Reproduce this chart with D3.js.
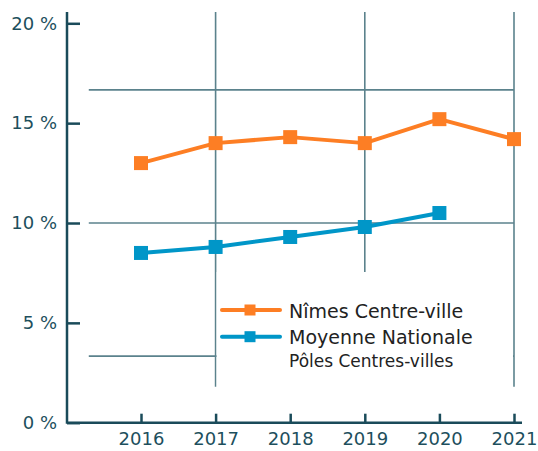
<!DOCTYPE html>
<html><head><meta charset="utf-8">
<script src="https://cdn.jsdelivr.net/npm/d3@7"></script>
<style>html,body{margin:0;padding:0;background:#fff}svg{display:block}</style>
</head><body>
<svg id="chart" width="538" height="451"></svg>
<script>
const years = [2016, 2017, 2018, 2019, 2020, 2021];
const nimes = [13.0, 14.0, 14.3, 14.0, 15.2, 14.2];
const nationale = [8.5, 8.8, 9.3, 9.8, 10.5, null];
const yTicks = [0, 5, 10, 15, 20];
const xGrid = [2017, 2019, 2021];
const yGrid = [10/3, 10, 50/3];
const seriesNames = ["Nîmes Centre-ville", "Moyenne Nationale"];
const seriesSub = ["", "Pôles Centres-villes"];
const colors = ["#fd7e24", "#0096c8"];

const FONT = "'DejaVu Sans', sans-serif";
const svg = d3.select("#chart");
const x = d3.scaleLinear().domain([2016, 2021]).range([141, 514]);
const y = d3.scaleLinear().domain([0, 20]).range([422.7, 23.3]);
const x0 = 67;

// grid
const gridColor = "#5b828c";
const g = svg.append("g");
g.selectAll(".vg").data(xGrid).join("line")
  .attr("x1", d => x(d)).attr("x2", d => x(d))
  .attr("y1", 12).attr("y2", y(1.8))
  .attr("stroke", gridColor).attr("stroke-width", 1.6);
g.selectAll(".hg").data(yGrid).join("line")
  .attr("x1", x(2015.3)).attr("x2", x(2021))
  .attr("y1", d => y(d)).attr("y2", d => y(d))
  .attr("stroke", gridColor).attr("stroke-width", 1.6);

// legend background (covers part of the grid)
svg.append("rect").attr("x", x(2017) + 1).attr("y", 272)
  .attr("width", x(2021) - x(2017) - 2).attr("height", 115).attr("fill", "#fff");

// axes
const axisColor = "#1a4b5a";
const yAxis = svg.append("g").attr("transform", `translate(${x0},0)`)
  .call(d3.axisLeft(y).tickValues(yTicks).tickSizeInner(-13).tickSizeOuter(0).tickPadding(10).tickFormat(d => d + " %"));
yAxis.select(".domain").remove();
yAxis.selectAll(".tick line").attr("stroke", axisColor).attr("stroke-width", 2.5);
yAxis.selectAll("text").attr("fill", "#1d4f5d").style("font-family", FONT).style("font-size", "18px");

const xAxis = svg.append("g").attr("transform", `translate(0,${y(0)})`)
  .call(d3.axisBottom(x).tickValues(years).tickSizeInner(-9).tickSizeOuter(0).tickPadding(10).tickFormat(d3.format("d")));
xAxis.select(".domain").remove();
xAxis.selectAll(".tick line").attr("stroke", axisColor).attr("stroke-width", 2.5);
xAxis.selectAll("text").attr("fill", "#1d4f5d").style("font-family", FONT).style("font-size", "18px");

svg.append("line").attr("x1", x0).attr("x2", x0).attr("y1", 12).attr("y2", y(0) + 1)
  .attr("stroke", axisColor).attr("stroke-width", 2.5);
svg.append("line").attr("x1", x0).attr("x2", 522).attr("y1", y(0)).attr("y2", y(0))
  .attr("stroke", axisColor).attr("stroke-width", 2.5);

// series
const series = [nimes, nationale];
const line = d3.line().defined(d => d[1] != null).x(d => x(d[0])).y(d => y(d[1]));
series.forEach((vals, i) => {
  const pts = years.map((yr, j) => [yr, vals[j]]);
  svg.append("path").datum(pts).attr("d", line)
    .attr("fill", "none").attr("stroke", colors[i]).attr("stroke-width", 4)
    .attr("stroke-linejoin", "round");
  svg.append("g").selectAll("rect").data(pts.filter(d => d[1] != null)).join("rect")
    .attr("x", d => x(d[0]) - 7).attr("y", d => y(d[1]) - 7)
    .attr("width", 14).attr("height", 14).attr("fill", colors[i]);
});

// legend
const legY = [310, 336.7];
seriesNames.forEach((name, i) => {
  const lg = svg.append("g");
  lg.append("line").attr("x1", 222).attr("x2", 280).attr("y1", legY[i]).attr("y2", legY[i])
    .attr("stroke", colors[i]).attr("stroke-width", 4).attr("stroke-linecap", "round");
  lg.append("rect").attr("x", 250 - 5.5).attr("y", legY[i] - 5.5).attr("width", 11).attr("height", 11).attr("fill", colors[i]);
  lg.append("text").attr("x", 289).attr("y", legY[i] + 7.5).text(name)
    .attr("fill", "#222").style("font-family", FONT).style("font-size", "19px");
  if (seriesSub[i]) {
    lg.append("text").attr("x", 289).attr("y", legY[i] + 30).text(seriesSub[i])
      .attr("fill", "#222").style("font-family", FONT).style("font-size", "17px");
  }
});
</script>
</body></html>
